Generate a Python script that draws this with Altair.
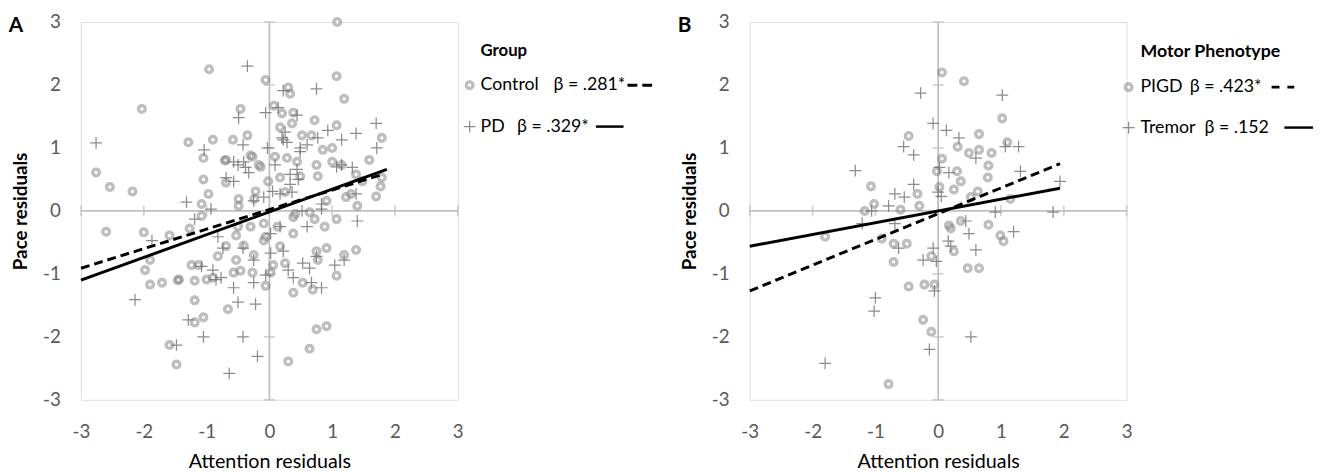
import altair as alt
import pandas as pd

TICKS = [-3, -2, -1, 0, 1, 2, 3]

# ---------------- Panel A : Group ----------------
CONTROL_X = [1.08, -0.96, -0.06, 1.07, 1.19, 0.30, 0.33, -2.03, -0.46, 0.07,
             0.20, 0.38, 0.72, 1.07, 0.17, -1.29, -0.90, -0.58, -0.35, 0.52,
             0.67, 0.85, 1.00, 1.79, -1.05, -0.69, -0.27, 0.28, 0.44, 0.75,
             1.00, 1.15, 1.59, -2.76, -2.54, -2.18, -1.05, -0.97, -0.69, -0.14,
             -0.02, 0.17, 0.49, 0.77, 1.38, 1.79, 1.77, 1.70, 1.30, 1.40,
             -1.08, -1.08, -0.49, -0.22, -0.49, 0.25, 0.41, 0.64, 0.91, 1.07,
             -2.60, -2.00, -1.59, -1.90, -1.98, -1.90, -1.71, -1.44, -1.46, -1.19,
             -1.24, -1.13, -1.27, -1.19, -1.05, -1.19, -1.59, -1.48, -0.82, -0.69,
             -0.53, -0.66, -0.53, -0.41, -0.25, -0.27, -0.57, -0.46, -0.90, -1.00,
             -0.09, -0.06, -0.09, -0.30, -0.50, 0.88, 0.72, 0.17, 0.25, 0.38,
             0.06, 0.02, 0.38, 0.53, 0.69, 0.75, 0.91, 0.77, 1.19, 1.38,
             1.07, 0.75, 0.91, 0.64, 0.30, -0.06, 0.13, 0.38, 1.22, 1.48,
             0.36, 0.09, -0.24, -0.17, -0.71, -0.30]
CONTROL_Y = [3.00, 2.25, 2.08, 2.14, 1.78, 1.96, 1.86, 1.62, 1.62, 1.67,
             1.55, 1.56, 1.44, 1.36, 1.33, 1.09, 1.13, 1.13, 1.20, 1.20,
             1.20, 0.97, 1.00, 1.16, 0.84, 0.81, 0.86, 0.84, 0.78, 0.73,
             0.78, 0.73, 0.81, 0.61, 0.38, 0.31, 0.50, 0.27, 0.45, 0.70,
             0.47, 0.53, 0.55, 0.55, 0.58, 0.53, 0.39, 0.23, 0.27, 0.08,
             0.11, -0.08, 0.19, 0.31, 0.08, 0.30, -0.05, -0.02, 0.16, -0.13,
             -0.33, -0.34, -0.39, -0.78, -0.94, -1.17, -1.14, -1.09, -1.10, -1.11,
             -0.86, -0.86, -0.28, -1.42, -1.69, -1.77, -2.13, -2.44, -0.72, -0.56,
             -0.39, -1.56, -0.78, -0.55, -0.70, -0.98, -0.98, -0.95, -1.06, -1.09,
             -0.47, -1.19, -0.20, -0.25, -0.25, -0.25, -0.13, -0.56, -0.83, -0.36,
             -0.86, -0.98, -1.30, -1.14, -1.25, -0.64, -0.59, -0.78, -0.70, -0.62,
             -1.03, -1.88, -1.83, -2.19, -2.39, -0.41, -0.25, -0.10, 0.22, 0.47,
             1.39, 0.86, 0.19, 0.73, 0.80, 0.88]

PD_X = [-0.35, 0.75, 0.22, 0.44, 0.14, -0.06, -0.49, 1.70, 1.38, 0.93,
        1.15, 1.71, 0.77, -2.76, -1.04, -0.42, 0.25, 0.22, -0.03, 0.49,
        -0.57, -0.38, -0.33, -0.69, 0.09, 0.33, 0.46, 1.15, 1.32, 0.05,
        -0.09, -1.32, -0.93, 0.52, 0.83, 1.40, -1.19, -0.25, 0.17, 0.33,
        -2.14, -1.87, -0.82, -1.08, -0.85, -0.90, -0.57, -0.50, -0.22, -0.25,
        -0.25, -1.29, -1.05, -0.42, -1.48, -0.19, -0.64, -0.42, -0.74, -0.77,
        0.02, 0.22, 0.53, 0.64, 0.30, 0.38, 0.67, 0.83, 0.75, 1.04,
        1.19, 0.02, -0.06, 0.60, 0.17, 0.28, 0.60, 0.49, 0.44, 1.07,
        0.36, 1.38, 0.83, -0.41, -0.50, -0.57, 0.20]
PD_Y = [2.30, 1.94, 1.91, 1.52, 1.64, 1.56, 1.48, 1.39, 1.23, 1.28,
        1.13, 1.00, 1.16, 1.08, 0.97, 1.05, 1.25, 1.13, 1.00, 1.00,
        0.78, 0.69, 0.61, 0.53, 0.73, 0.58, 0.50, 0.73, 0.69, 0.31,
        0.22, 0.14, 0.03, 0.00, 0.03, -0.16, -0.13, 0.16, 0.27, 0.42,
        -1.41, -0.47, -0.41, -0.88, -1.09, -0.94, -1.22, -1.45, -1.48, -1.14,
        -0.78, -1.73, -2.00, -2.00, -2.13, -2.31, -2.58, -0.59, -0.59, -1.06,
        -0.36, -0.64, -0.83, -0.91, -0.94, -1.06, -1.14, -1.22, -0.72, -0.86,
        -0.78, -0.67, -1.02, -0.25, -0.25, 1.09, 1.05, 0.94, 0.66, 0.70,
        0.30, 0.27, 0.11, 0.78, 0.73, 0.47, 1.16]

# regression line end points
CONTROL_FIT_X = [-3.0, 1.80]
CONTROL_FIT_Y = [-0.91, 0.58]
PD_FIT_X = [-3.0, 1.87]
PD_FIT_Y = [-1.10, 0.66]

# ---------------- Panel B : Motor Phenotype ----------------
PIGD_X = [0.06, 0.41, 1.02, 0.65, 1.10, -0.47, 0.31, 0.49, 0.65, 0.85,
          0.80, 0.06, -0.02, 0.30, 0.36, 0.79, 0.63, 0.25, 0.02, -1.07,
          -0.33, -1.02, -1.17, -0.60, -0.30, 1.15, 0.52, 0.36, 0.17, 0.20,
          0.80, 0.99, -1.80, -0.90, -0.71, -0.50, -0.71, 0.25, 0.47, 0.65,
          1.04, -0.11, -0.47, -0.22, -0.06, -0.24, -0.11, -0.79]
PIGD_Y = [2.20, 2.06, 1.47, 1.22, 1.09, 1.19, 1.02, 0.92, 0.97, 0.92,
          0.72, 0.83, 0.63, 0.63, 0.47, 0.53, 0.31, 0.34, 0.38, 0.39,
          0.27, 0.11, 0.00, 0.02, 0.08, 0.19, 0.22, -0.16, -0.23, -0.28,
          -0.22, -0.39, -0.41, -0.44, -0.52, -0.52, -0.81, -0.64, -0.91, -0.91,
          -0.48, -0.72, -1.20, -1.17, -1.17, -1.73, -1.92, -2.75]

TREMOR_X = [-0.28, 1.02, -0.08, 0.13, 0.33, -0.55, -0.39, 0.60, 1.07, 1.28,
            -1.32, 0.02, 0.17, 1.31, 1.94, -0.39, -0.69, -0.54, 0.00, 0.05,
            -0.79, -1.06, 0.91, 1.83, 0.44, -1.21, -0.69, 1.20, 0.49, 0.16,
            -0.63, -0.08, 0.20, 0.60, -0.24, -0.03, -0.06, -1.00, -1.02, 0.52,
            -0.14, -1.80]
TREMOR_Y = [1.87, 1.84, 1.39, 1.28, 1.16, 1.02, 0.89, 0.84, 1.02, 1.02,
            0.64, 0.69, 0.61, 0.63, 0.47, 0.42, 0.27, 0.22, 0.30, 0.23,
            0.08, 0.00, -0.02, -0.02, -0.16, -0.20, -0.20, -0.33, -0.36, -0.48,
            -0.59, -0.59, -0.56, -0.62, -0.78, -0.80, -1.27, -1.38, -1.59, -2.00,
            -2.20, -2.42]

PIGD_FIT_X = [-3.0, 1.94]
PIGD_FIT_Y = [-1.27, 0.75]
TREMOR_FIT_X = [-3.0, 1.94]
TREMOR_FIT_Y = [-0.56, 0.36]

FONT = "Lato"
AXIS_GRAY = "#bfbfbf"
LABEL_GRAY = "#595959"
PLUS = "M-1,0L1,0M0,-1L0,1"
ONE = pd.DataFrame({"k": [0]})

CIRCLE_STYLE = dict(shape="circle", filled=False, size=46, strokeWidth=3.4,
                    color="#7f7f7f", opacity=0.5)
PLUS_STYLE = dict(shape=PLUS, filled=False, size=144, strokeWidth=1.25,
                  color="#707070", opacity=0.8)


def panel(letter, g1, g2, g1x, g1y, g2x, g2y, f1x, f1y, f2x, f2y, leg):
    pts = pd.DataFrame({"x": g1x + g2x, "y": g1y + g2y,
                        "g": [g1] * len(g1x) + [g2] * len(g2x)})
    fits = pd.DataFrame({"x": f1x + f2x, "y": f1y + f2y,
                         "g": [g1] * len(f1x) + [g2] * len(f2x)})
    axis_lines = pd.DataFrame({"x": [-3, 0], "y": [0, -3], "x2": [3, 0], "y2": [0, 3]})
    hticks = pd.DataFrame({"x": TICKS, "y": [0] * len(TICKS)})
    vticks = pd.DataFrame({"x": [0] * len(TICKS), "y": TICKS})

    sc = alt.Scale(domain=[-3, 3], nice=False, zero=False)
    xaxis = alt.Axis(values=TICKS, title="Attention residuals", labelExpr="'' + datum.value",
                     domain=False, ticks=False, tickSize=0, grid=False, labelPadding=23,
                     labelFontSize=19, labelColor=LABEL_GRAY, labelFont=FONT,
                     labelFlush=False, labelOverlap=False,
                     titleFont=FONT, titleFontSize=20, titleFontWeight="normal",
                     titleColor="black", titlePadding=11)
    yaxis = alt.Axis(values=TICKS, title="Pace residuals", labelExpr="'' + datum.value",
                     domain=False, ticks=False, tickSize=0, grid=False, labelPadding=21,
                     labelFontSize=19, labelColor=LABEL_GRAY, labelFont=FONT,
                     labelOverlap=False,
                     titleFont=FONT, titleFontSize=19, titleFontWeight="bold",
                     titleColor="black", titlePadding=12)
    X = alt.X("x:Q", scale=sc, axis=xaxis)
    Y = alt.Y("y:Q", scale=sc, axis=yaxis)

    rules = alt.Chart(axis_lines).mark_rule(color=AXIS_GRAY, strokeWidth=1.8).encode(
        x=X, y=Y, x2="x2:Q", y2="y2:Q")
    ht = alt.Chart(hticks).mark_tick(orient="vertical", size=11, thickness=1.8,
                                     color=AXIS_GRAY).encode(x=X, y=Y)
    vt = alt.Chart(vticks).mark_tick(orient="horizontal", size=11, thickness=1.8,
                                     color=AXIS_GRAY).encode(x=X, y=Y)
    circ = alt.Chart(pts).transform_filter(alt.datum.g == g1).mark_point(
        **CIRCLE_STYLE).encode(x=X, y=Y)
    plus = alt.Chart(pts).transform_filter(alt.datum.g == g2).mark_point(
        **PLUS_STYLE).encode(x=X, y=Y)
    fit1 = alt.Chart(fits).transform_filter(alt.datum.g == g1).mark_line(
        color="black", strokeWidth=3, strokeDash=[9, 5]).encode(x=X, y=Y)
    fit2 = alt.Chart(fits).transform_filter(alt.datum.g == g2).mark_line(
        color="black", strokeWidth=3).encode(x=X, y=Y)

    def txt(s, x, y, size=18, weight="normal", align="left"):
        return alt.Chart(ONE).mark_text(text=s, font=FONT, fontSize=size, fontWeight=weight,
                                        align=align, baseline="middle", color="black").encode(
            x=alt.value(x), y=alt.value(y))

    layers = [rules, ht, vt, circ, plus, fit1, fit2]
    layers.append(txt(letter, -66, 4, size=21, weight="bold", align="center"))
    layers.append(txt(leg["title"], leg["tx"], leg["ty"], size=leg["ts"], weight="bold"))
    # row 1
    layers.append(alt.Chart(ONE).mark_point(**CIRCLE_STYLE).encode(
        x=alt.value(leg["mx"]), y=alt.value(leg["y1"])))
    layers.append(txt(leg["n1"], leg["tx"], leg["y1"]))
    layers.append(txt(leg["b1"], leg["bx1"], leg["y1"]))
    layers.append(alt.Chart(ONE).mark_rule(color="black", strokeWidth=3,
                                           strokeDash=leg["dash"]).encode(
        x=alt.value(leg["l1"][0]), x2=alt.value(leg["l1"][1]), y=alt.value(leg["y1"])))
    # row 2
    layers.append(alt.Chart(ONE).mark_point(**PLUS_STYLE).encode(
        x=alt.value(leg["mx"]), y=alt.value(leg["y2"])))
    layers.append(txt(leg["n2"], leg["tx"], leg["y2"]))
    layers.append(txt(leg["b2"], leg["bx2"], leg["y2"]))
    layers.append(alt.Chart(ONE).mark_rule(color="black", strokeWidth=2.5).encode(
        x=alt.value(leg["l2"][0]), x2=alt.value(leg["l2"][1]), y=alt.value(leg["y2"])))

    return alt.layer(*layers).properties(width=382, height=383)


LEG_A = dict(title="Group", ts=17, tx=405, ty=29, mx=394, y1=64, y2=106,
             n1="Control", b1="β = .281*", bx1=479, l1=(554, 579), dash=[10, 5],
             n2="PD", b2="β = .329*", bx2=442, l2=(522, 550))
LEG_B = dict(title="Motor Phenotype", ts=18, tx=396, ty=30, mx=384, y1=66, y2=107,
             n1="PIGD", b1="β = .423*", bx1=446, l1=(529, 552), dash=[8, 8],
             n2="Tremor", b2="β = .152", bx2=461, l2=(542, 571))

chartA = panel("A", "Control", "PD", CONTROL_X, CONTROL_Y, PD_X, PD_Y,
               CONTROL_FIT_X, CONTROL_FIT_Y, PD_FIT_X, PD_FIT_Y, LEG_A)
chartB = panel("B", "PIGD", "Tremor", PIGD_X, PIGD_Y, TREMOR_X, TREMOR_Y,
               PIGD_FIT_X, PIGD_FIT_Y, TREMOR_FIT_X, TREMOR_FIT_Y, LEG_B)

chart = alt.hconcat(chartA, chartB, spacing=23).properties(
    padding={"left": 0, "top": 0, "right": 0, "bottom": 0}
).configure_view(stroke=None).configure(font=FONT)

chart.save("out.html", embed_options={"renderer": "svg", "actions": False})
